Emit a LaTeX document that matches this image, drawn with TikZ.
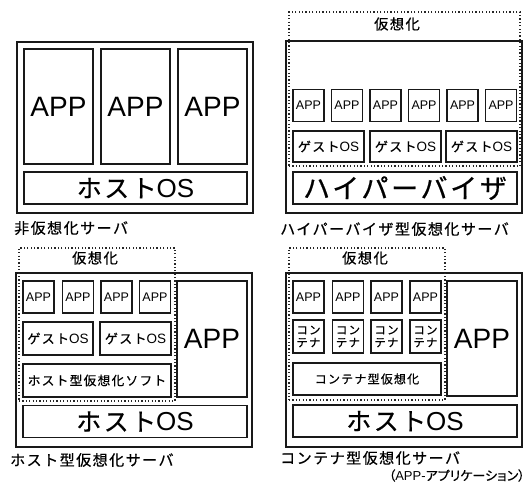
\documentclass[tikz,border=0pt]{standalone}
\usepackage{fontspec}
\setmainfont{Liberation Sans}
\newfontfamily\jp{Noto Sans CJK JP}[LetterSpace=10,FakeBold=0.6]
\newfontfamily\jpp{Noto Sans CJK JP}[RawFeature=+palt,FakeBold=0.6]
\newcommand\fsz[1]{\fontsize{#1}{#1}\selectfont}
\tikzset{
  box/.style={draw=black!90, line width=1.5pt, inner sep=0pt, anchor=center, align=center},
  dotbox/.style={draw=black!85, line width=1.2pt, dash pattern=on 1.2pt off 2.2pt, inner sep=0pt, anchor=center},
  lbl/.style={inner sep=0pt, anchor=west, font=\fsz{15}},
  vcap/.style={inner sep=0pt, anchor=center, font=\fsz{14.3}},
  bigapp/.style={box, font=\fsz{28}},
  smapp/.style={box, minimum width=31pt, minimum height=32pt, font=\fsz{12.5}},
  hostos/.style={box, minimum width=224pt, minimum height=32pt, font=\fsz{26}},
  guest/.style={box, minimum width=71pt, minimum height=32pt, font=\fsz{13.5}},
}
\newcommand\hos{{\fsz{25}\jp ホスト}OS}
\newcommand\gos{{\fsz{13}\jp ゲスト}OS}
\begin{document}
\begin{tikzpicture}[x=1pt,y=-1pt]
\useasboundingbox (0,0) rectangle (527,485);
% ---------- Panel A ----------
\node[box, minimum width=236pt, minimum height=171pt] (outA) at (135,127.5) {};
\node[bigapp, minimum width=69pt, minimum height=115pt] (a1) at (58.5,106.5) {APP};
\node[bigapp, minimum width=69pt, minimum height=115pt] (a2) at (135.5,106.5) {APP};
\node[bigapp, minimum width=69pt, minimum height=115pt] (a3) at (212.5,106.5) {APP};
\node[hostos, minimum width=223pt] (osA) at (135.5,188) {\hos};
\node[lbl] (labA) at (14,228) {\jp 非仮想化サーバ};
% ---------- Panel B ----------
\node[box, minimum width=236pt, minimum height=172pt] (outB) at (404,127) {};
\node[dotbox, minimum width=231pt, minimum height=154pt] (dotB) at (404.5,89) {};
\node[vcap] (vB) at (397,24) {\jp 仮想化};
\foreach \i/\x in {1/308.5,2/347,3/385.5,4/424,5/462.5,6/501}
  \node[smapp] (b\i) at (\x,105.5) {APP};
\foreach \i/\x in {1/328.5,2/405.5,3/481.5}
  \node[guest, minimum height=31pt] (g\i) at (\x,146.5) {\gos};
\node[box, minimum width=224pt, minimum height=32pt, font=\fsz{27}] (hv) at (405,188) {\jp ハイパーバイザ};
\node[lbl] (labB) at (280,229) {\jp ハイパーバイザ型仮想化サーバ};
% ---------- Panel C ----------
\node[box, minimum width=236pt, minimum height=174pt] (outC) at (134,360) {};
\node[dotbox, minimum width=156pt, minimum height=153pt] (dotC) at (97,324.5) {};
\node[vcap] (vC) at (95,258) {\jp 仮想化};
\foreach \i/\x in {1/38.5,2/78,3/116.5,4/155}
  \node[smapp] (c\i) at (\x,297) {APP};
\node[guest, minimum width=70pt, minimum height=33pt] (cg1) at (58,338.5) {\gos};
\node[guest, minimum width=71pt, minimum height=33pt] (cg2) at (135.5,338.5) {\gos};
\node[box, minimum width=148pt, minimum height=33pt, font=\fsz{12.7}] (soft) at (97,380.5) {\jp ホスト型仮想化ソフト};
\node[bigapp, minimum width=70pt, minimum height=116pt] (cbig) at (212,339) {APP};
\node[hostos] (osC) at (135,421.5) {\hos};
\node[lbl] (labC) at (10,460) {\jp ホスト型仮想化サーバ};
% ---------- Panel D ----------
\node[box, minimum width=236pt, minimum height=174pt] (outD) at (404,360) {};
\node[dotbox, minimum width=156pt, minimum height=152pt] (dotD) at (367,324) {};
\node[vcap] (vD) at (365,258) {\jp 仮想化};
\foreach \i/\x in {1/308.5,2/348,3/386.5,4/425.5}
  \node[smapp] (d\i) at (\x,297) {APP};
\foreach \i/\x in {1/308.5,2/348,3/386.5,4/425.5}
  \node[box, minimum width=31pt, minimum height=33pt, font=\fsz{11.5}] (k\i) at (\x,336.5) {\jp コン\\[1pt]\jp テナ};
\node[box, minimum width=148pt, minimum height=32pt, font=\fsz{12}] (cv) at (367,379) {\jp コンテナ型仮想化};
\node[bigapp, minimum width=70pt, minimum height=115pt] (dbig) at (482,338.5) {APP};
\node[hostos] (osD) at (405,421) {\hos};
\node[lbl] (labD) at (280,458) {\jp コンテナ型仮想化サーバ};
\node[inner sep=0pt, anchor=east, font=\fsz{13}] (note) at (525,475.5) {{\jpp （}APP-{\jpp アプリケーション）}};
\end{tikzpicture}
\end{document}
